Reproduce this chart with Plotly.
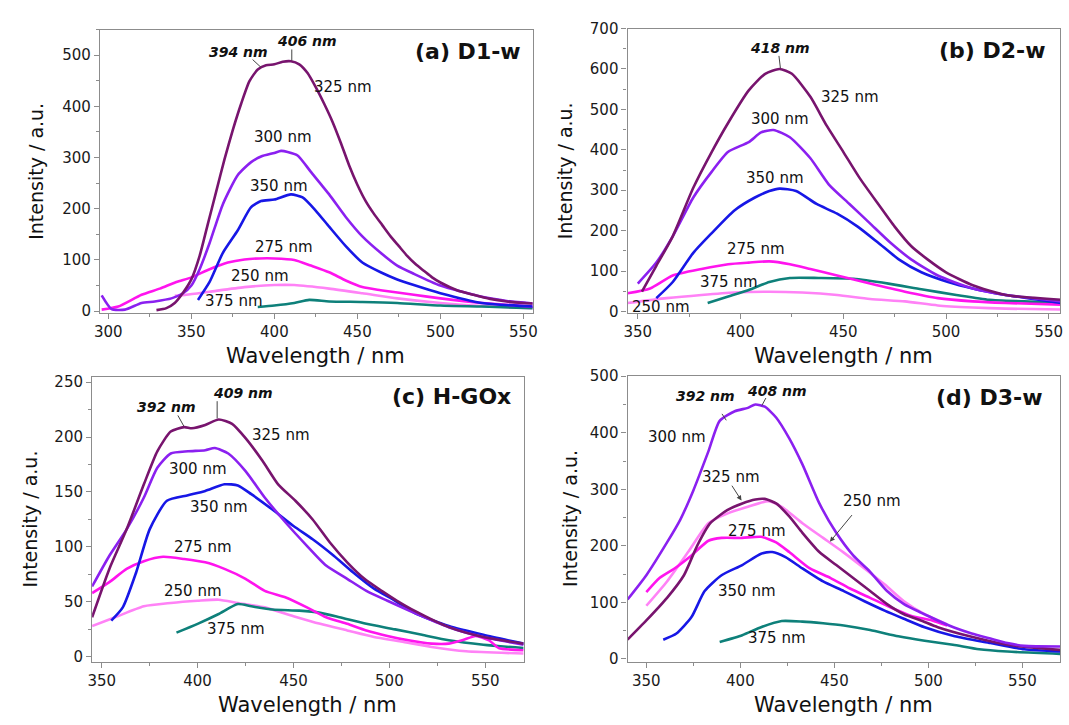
import plotly.graph_objects as go

# ---------------- data (wavelength nm, intensity a.u.) ----------------
# Panel (a) D1-w
A325_X = [329, 335, 340, 345, 350, 355, 360, 365, 370, 375, 380, 385, 390, 395, 400, 405, 410, 415, 420, 425, 430, 435, 440, 445, 450, 455, 460, 465, 470, 475, 480, 485, 490, 495, 500, 510, 520, 530, 540, 550, 556]
A325_Y = [2, 6, 16, 36, 62, 108, 171, 234, 297, 354, 405, 449, 472, 480, 482, 487, 488, 482, 465, 437, 405, 370, 329, 285, 247, 215, 190, 168, 146, 127, 108, 92, 79, 66, 56, 41, 32, 24, 19, 16, 15]
A300_X = [296, 302, 310, 320, 328, 338, 345, 350, 355, 361, 369, 378, 386, 392, 400, 404, 408, 414, 422, 433, 443, 453, 464, 474, 484, 500, 525, 540, 556]
A300_Y = [31, 4, 3, 16, 19, 25, 35, 50, 82, 133, 209, 266, 291, 302, 309, 313, 311, 304, 272, 228, 184, 146, 114, 89, 73, 50, 28, 20, 15]
A350_X = [354, 361, 369, 378, 386, 392, 400, 410, 417, 425, 433, 443, 453, 464, 474, 484, 500, 525, 556]
A350_Y = [22, 57, 114, 158, 203, 215, 218, 228, 222, 196, 165, 127, 95, 76, 62, 51, 35, 16, 9]
A275_X = [296, 306, 320, 331, 341, 350, 361, 372, 382, 391, 400, 412, 422, 433, 443, 453, 464, 484, 500, 525, 556]
A275_Y = [3, 9, 32, 44, 57, 66, 82, 95, 101, 103, 103, 100, 89, 76, 60, 47, 41, 32, 25, 16, 9]
A250_X = [340, 347, 361, 382, 400, 412, 433, 453, 474, 500, 525, 556]
A250_Y = [30, 32, 38, 47, 51, 51, 44, 35, 25, 16, 10, 6]
A375_X = [390, 400, 412, 421, 433, 453, 474, 500, 525, 556]
A375_Y = [8, 11, 16, 22, 19, 18, 16, 11, 9, 6]

# Panel (b) D2-w
B325_X = [352, 359, 367, 377, 386, 394, 404, 412, 419, 425, 434, 442, 450, 458, 467, 475, 483, 491, 500, 513, 529, 556]
B325_Y = [49, 113, 186, 306, 395, 467, 547, 588, 600, 588, 531, 459, 395, 330, 266, 210, 162, 129, 97, 65, 41, 29]
B300_X = [350, 359, 367, 377, 386, 394, 404, 410, 416, 424, 434, 443, 453, 463, 473, 483, 496, 513, 529, 556]
B300_Y = [69, 121, 186, 282, 346, 395, 419, 443, 449, 431, 379, 314, 266, 218, 170, 129, 89, 57, 41, 25]
B350_X = [359, 367, 377, 386, 397, 407, 414, 419, 427, 437, 447, 457, 467, 477, 488, 501, 513, 529, 556]
B350_Y = [33, 73, 145, 194, 250, 282, 298, 304, 298, 266, 242, 210, 170, 129, 97, 73, 57, 41, 21]
B275_X = [345, 356, 367, 381, 394, 404, 414, 424, 434, 447, 463, 480, 496, 513, 529, 556]
B275_Y = [45, 57, 89, 105, 117, 121, 124, 117, 105, 89, 69, 49, 33, 25, 21, 17]
B250_X = [345, 364, 381, 397, 414, 430, 447, 463, 480, 496, 513, 529, 556]
B250_Y = [21, 33, 41, 47, 49, 47, 41, 31, 25, 15, 10, 7, 5]
B375_X = [384, 394, 404, 414, 424, 438, 455, 472, 488, 505, 521, 538, 556]
B375_Y = [21, 37, 53, 73, 83, 83, 81, 69, 55, 41, 29, 25, 21]

# Panel (c) H-GOx
C325_X = [345, 354, 363, 372, 379, 386, 393, 397, 404, 411, 418, 425, 434, 442, 451, 460, 469, 478, 487, 496, 504, 513, 531, 549, 570]
C325_Y = [36, 80, 116, 157, 187, 205, 209, 208, 211, 216, 212, 199, 178, 157, 142, 125, 104, 86, 71, 60, 51, 42, 27, 18, 12]
C300_X = [345, 354, 363, 372, 379, 386, 395, 404, 409, 416, 425, 435, 446, 457, 467, 478, 488, 499, 513, 531, 549, 570]
C300_Y = [64, 92, 116, 145, 172, 185, 187, 188, 190, 185, 169, 145, 122, 101, 83, 71, 60, 51, 40, 27, 18, 11]
C350_X = [355, 361, 368, 375, 384, 395, 404, 414, 421, 428, 439, 450, 460, 471, 481, 492, 503, 513, 531, 549, 570]
C350_Y = [33, 45, 77, 116, 142, 147, 151, 157, 156, 148, 134, 119, 107, 92, 77, 62, 51, 40, 28, 20, 12]
C275_X = [345, 354, 363, 372, 382, 393, 404, 414, 425, 435, 446, 457, 467, 478, 488, 499, 510, 522, 531, 538, 545, 552, 557, 570]
C275_Y = [58, 68, 80, 87, 91, 89, 86, 80, 71, 60, 54, 45, 36, 30, 24, 19, 15, 12, 12, 15, 19, 15, 8, 6]
C250_X = [345, 357, 372, 386, 400, 411, 421, 435, 450, 464, 478, 492, 506, 522, 540, 570]
C250_Y = [28, 36, 46, 49, 51, 52, 49, 45, 37, 30, 24, 18, 14, 9, 5, 3]
C375_X = [389, 400, 411, 421, 428, 439, 453, 464, 474, 488, 503, 517, 531, 549, 570]
C375_Y = [22, 30, 39, 48, 46, 43, 42, 40, 36, 30, 25, 20, 15, 11, 8]

# Panel (d) D3-w
D300_X = [340, 350, 361, 368, 375, 383, 389, 397, 404, 408, 413, 419, 426, 433, 442, 451, 460, 469, 478, 487, 496, 505, 514, 523, 533, 542, 551, 570]
D300_Y = [105, 148, 206, 246, 298, 367, 421, 438, 444, 450, 446, 427, 390, 344, 275, 223, 183, 154, 120, 97, 82, 68, 55, 45, 36, 28, 23, 22]
D325_X = [340, 350, 361, 370, 377, 384, 393, 401, 408, 413, 419, 426, 433, 442, 451, 460, 469, 478, 487, 496, 505, 523, 542, 570]
D325_Y = [34, 68, 108, 148, 200, 240, 263, 275, 282, 283, 275, 252, 223, 189, 166, 143, 120, 97, 79, 68, 56, 39, 25, 16]
D250_X = [350, 361, 372, 383, 393, 404, 415, 422, 433, 444, 455, 466, 477, 487, 498, 510]
D250_Y = [94, 137, 188, 240, 257, 269, 279, 269, 240, 214, 188, 160, 131, 102, 79, 61]
D275_X = [350, 357, 365, 374, 383, 390, 401, 411, 419, 426, 437, 448, 458, 469, 480, 491, 502, 510]
D275_Y = [118, 143, 160, 183, 209, 214, 214, 216, 206, 189, 160, 143, 125, 108, 91, 76, 68, 59]
D350_X = [359, 366, 374, 381, 390, 401, 411, 417, 424, 433, 444, 455, 466, 477, 487, 498, 514, 533, 551, 570]
D350_Y = [34, 45, 74, 120, 148, 166, 186, 189, 180, 160, 137, 120, 102, 85, 71, 56, 40, 28, 17, 13]
D375_X = [389, 401, 411, 422, 433, 444, 455, 469, 484, 498, 513, 527, 542, 570]
D375_Y = [30, 42, 56, 67, 66, 63, 59, 51, 40, 32, 25, 17, 13, 9]

EXC_LABELS = ["325 nm", "300 nm", "350 nm", "275 nm", "250 nm", "375 nm"]
PANEL_TITLES = ["(a) D1-w", "(b) D2-w", "(c) H-GOx", "(d) D3-w"]
X_TITLE = "Wavelength / nm"
Y_TITLE = "Intensity / a.u."

COL = {"325": "#78146e", "300": "#8b20f0", "350": "#1717e6",
       "275": "#ff14ee", "250": "#ff82f6", "375": "#0e807a"}

FONT = "DejaVu Sans, Verdana, sans-serif"

fig = go.Figure()

panels = [
    ("x", "y", [("250", A250_X, A250_Y), ("375", A375_X, A375_Y), ("275", A275_X, A275_Y),
                ("350", A350_X, A350_Y), ("300", A300_X, A300_Y), ("325", A325_X, A325_Y)]),
    ("x2", "y2", [("250", B250_X, B250_Y), ("375", B375_X, B375_Y), ("275", B275_X, B275_Y),
                  ("350", B350_X, B350_Y), ("300", B300_X, B300_Y), ("325", B325_X, B325_Y)]),
    ("x3", "y3", [("250", C250_X, C250_Y), ("375", C375_X, C375_Y), ("275", C275_X, C275_Y),
                  ("350", C350_X, C350_Y), ("300", C300_X, C300_Y), ("325", C325_X, C325_Y)]),
    ("x4", "y4", [("375", D375_X, D375_Y), ("350", D350_X, D350_Y), ("250", D250_X, D250_Y),
                  ("275", D275_X, D275_Y), ("325", D325_X, D325_Y), ("300", D300_X, D300_Y)]),
]
for xa, ya, series in panels:
    for key, xs, ys in series:
        fig.add_trace(go.Scatter(x=xs, y=ys, mode="lines", xaxis=xa, yaxis=ya,
                                 line=dict(color=COL[key], width=2.6, shape="spline", smoothing=0.6),
                                 showlegend=False, hoverinfo="skip"))

def xaxis(domain, rng, anchor):
    return dict(domain=domain, range=rng, anchor=anchor, showgrid=False, zeroline=False,
                showline=True, linecolor="#8c8c8c", linewidth=1.2, mirror=True,
                ticks="outside", ticklen=5, tickcolor="#8c8c8c", dtick=50, tick0=300,
                minor=dict(ticks="outside", ticklen=3, tickcolor="#8c8c8c", dtick=25),
                tickfont=dict(family=FONT, size=15, color="#1a1a1a"))

def yaxis(domain, rng, anchor, dtick, mdt):
    return dict(domain=domain, range=rng, anchor=anchor, showgrid=False, zeroline=False,
                showline=True, linecolor="#8c8c8c", linewidth=1.2, mirror=True,
                ticks="outside", ticklen=5, tickcolor="#8c8c8c", dtick=dtick, tick0=0,
                minor=dict(ticks="outside", ticklen=3, tickcolor="#8c8c8c", dtick=mdt),
                tickfont=dict(family=FONT, size=15, color="#1a1a1a"))

W, H = 1069, 725
def dx(p0, p1):
    return [p0 / W, p1 / W]
def dy(top, bot):
    return [1 - bot / H, 1 - top / H]

fig.update_layout(
    width=W, height=H, margin=dict(l=0, r=0, t=0, b=0),
    plot_bgcolor="white", paper_bgcolor="white",
    xaxis=xaxis(dx(95, 532), [295, 555.5], "y"),
    yaxis=yaxis(dy(21, 311), [-3, 550], "x", 100, 50),
    xaxis2=xaxis(dx(628, 1065), [345, 555.5], "y2"),
    yaxis2=yaxis(dy(20, 311), [-3, 700], "x2", 100, 50),
    xaxis3=xaxis(dx(87, 523), [345, 570], "y3"),
    yaxis3=yaxis(dy(377, 669), [-5, 254.5], "x3", 50, 25),
    xaxis4=xaxis(dx(628, 1065), [340, 570], "y4"),
    yaxis4=yaxis(dy(376, 669), [-6, 500], "x4", 100, 50),
)

ann = []
def txt(xr, yr, x, y, t, bold_italic=False, size=15):
    s = f"<b><i>{t}</i></b>" if bold_italic else t
    ann.append(dict(xref=xr, yref=yr, x=x, y=y, text=s, showarrow=False,
                    xanchor="center", yanchor="middle",
                    font=dict(family=FONT, size=(14 if bold_italic else size), color="#111")))

def leader(xr, yr, x0, y0, x1, y1, head=0):
    ann.append(dict(xref=xr, yref=yr, axref=xr, ayref=yr, x=x1, y=y1, ax=x0, ay=y0,
                    text="", showarrow=True, arrowhead=head, arrowsize=1, arrowwidth=1,
                    arrowcolor="#444"))

def ptitle(xr, yr, x, y, t):
    ann.append(dict(xref=xr, yref=yr, x=x, y=y, text=f"<b>{t}</b>", showarrow=False,
                    xanchor="right", yanchor="middle",
                    font=dict(family=FONT, size=22, color="#111")))

# panel (a)
txt("x", "y", 378.7, 506, "394 nm", True)
txt("x", "y", 419.6, 528, "406 nm", True)
leader("x", "y", 386, 494, 392, 476)
leader("x", "y", 410.5, 514, 410.5, 489)
txt("x", "y", 441.3, 437, EXC_LABELS[0])
txt("x", "y", 405.3, 340, EXC_LABELS[1])
txt("x", "y", 403, 244, EXC_LABELS[2])
txt("x", "y", 406, 125, EXC_LABELS[3])
txt("x", "y", 391.6, 68, EXC_LABELS[4])
txt("x", "y", 375.6, 19, EXC_LABELS[5])
ptitle("x", "y", 550, 508, PANEL_TITLES[0])

# panel (b)
txt("x2", "y2", 419.4, 653, "418 nm", True)
leader("x2", "y2", 418.6, 636, 419.4, 602)
txt("x2", "y2", 453.3, 531, EXC_LABELS[0])
txt("x2", "y2", 419.4, 475, EXC_LABELS[1])
txt("x2", "y2", 416.6, 330, EXC_LABELS[2])
txt("x2", "y2", 407.4, 154, EXC_LABELS[3])
txt("x2", "y2", 394.6, 73, EXC_LABELS[5])
txt("x2", "y2", 361.2, 10, EXC_LABELS[4])
ptitle("x2", "y2", 549.5, 645, PANEL_TITLES[1])

# panel (c)
txt("x3", "y3", 384, 227.5, "392 nm", True)
txt("x3", "y3", 423.5, 240, "409 nm", True)
leader("x3", "y3", 389.3, 221, 392.8, 210)
leader("x3", "y3", 410.2, 234, 410.2, 217)
txt("x3", "y3", 443.3, 202, EXC_LABELS[0])
txt("x3", "y3", 400.4, 171, EXC_LABELS[1])
txt("x3", "y3", 411, 136, EXC_LABELS[2])
txt("x3", "y3", 403, 100, EXC_LABELS[3])
txt("x3", "y3", 397.8, 59.5, EXC_LABELS[4])
txt("x3", "y3", 420, 25, EXC_LABELS[5])
ptitle("x3", "y3", 564.5, 237, PANEL_TITLES[2])

# panel (d)
txt("x4", "y4", 381.6, 465.5, "392 nm", True)
txt("x4", "y4", 419.6, 474, "408 nm", True)
leader("x4", "y4", 389.7, 436, 392.5, 422)
leader("x4", "y4", 414, 464, 411.4, 448)
txt("x4", "y4", 366.3, 392.5, EXC_LABELS[1])
txt("x4", "y4", 395, 322, EXC_LABELS[0])
leader("x4", "y4", 395, 309, 400.6, 280, head=2)
txt("x4", "y4", 470, 280, EXC_LABELS[4])
leader("x4", "y4", 460, 257, 447.6, 207, head=2)
txt("x4", "y4", 409, 227, EXC_LABELS[3])
txt("x4", "y4", 403.3, 119.5, EXC_LABELS[2])
txt("x4", "y4", 419.6, 37, EXC_LABELS[5])
ptitle("x4", "y4", 562, 461.5, PANEL_TITLES[3])

# axis titles
for cx, cy in [(313, 355), (846, 355), (305, 713), (846, 713)]:
    ann.append(dict(xref="paper", yref="paper", x=cx / W, y=1 - cy / H, text=X_TITLE,
                    xanchor="center", yanchor="middle",
                    showarrow=False, font=dict(family=FONT, size=21, color="#111")))
for cx, cy in [(30, 166), (565, 166), (24, 522), (570, 522)]:
    ann.append(dict(xref="paper", yref="paper", x=cx / W, y=1 - cy / H, text=Y_TITLE,
                    xanchor="center", yanchor="middle",
                    textangle=-90, showarrow=False, font=dict(family=FONT, size=19, color="#111")))

fig.update_layout(annotations=ann)
fig.write_html("out.html", config={"displayModeBar": False},
               post_script="document.body.style.margin='0';document.body.style.overflow='hidden';")
